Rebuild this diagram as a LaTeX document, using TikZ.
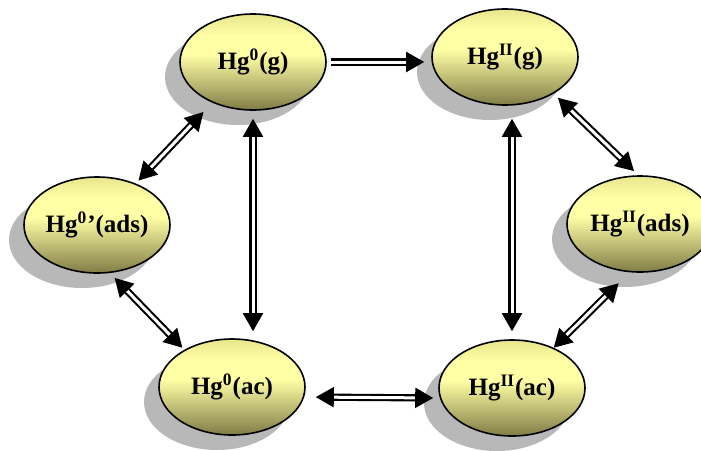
\documentclass[tikz,border=0pt]{standalone}
\usepackage{fontspec}
\setmainfont{Liberation Serif}
\usepackage{tikz}
\usetikzlibrary{arrows.meta,shapes.geometric,shadows}
\definecolor{spctop}{RGB}{232,230,140}
\definecolor{spcmid}{RGB}{255,255,165}
\definecolor{spcbot}{RGB}{128,124,70}
\pgfdeclareverticalshading{spcshade}{100bp}{color(0bp)=(spcbot);
  color(25bp)=(spcbot); color(54bp)=(spcmid); color(64bp)=(spcmid);
  color(75bp)=(spctop); color(100bp)=(spctop)}
\tikzset{
  spc/.style={ellipse, draw, thick, minimum width=73pt, minimum height=48pt,
              inner sep=0pt, shading=spcshade,
              font=\fontsize{12.5}{14}\selectfont\bfseries,
              drop shadow={shadow xshift=-7.5pt, shadow yshift=-7.5pt,
                           fill=black!28, opacity=1}},
  dbl/.style={line width=1.05pt, double=white, double distance=1.5pt,
              {Triangle[length=9pt,width=10pt]}-{Triangle[length=9pt,width=10pt]}},
  one/.style={line width=1.05pt, double=white, double distance=1.5pt,
              -{Triangle[length=9pt,width=10pt]}},
}
\begin{document}
\begin{tikzpicture}[x=0.5pt, y=-0.5pt]
  \useasboundingbox (0,0) rectangle (701,450);
  % species
  \node[spc] (g0)    at (253,62)  {Hg\textsuperscript{0}(g)};
  \node[spc] (gII)   at (505,57)  {Hg\textsuperscript{II}(g)};
  \node[spc] (ads0)  at (97,225)  {Hg\textsuperscript{0}’(ads)};
  \node[spc] (adsII) at (640,224) {Hg\textsuperscript{II}(ads)};
  \node[spc] (ac0)   at (232,387) {Hg\textsuperscript{0}(ac)};
  \node[spc] (acII)  at (512,388) {Hg\textsuperscript{II}(ac)};
  % transfers
  \draw[one, shorten <=2pt, shorten >=3.5pt] (g0.east) -- (g0.east -| gII.west);
  \draw[dbl, shorten <=4pt, shorten >=3.5pt] (g0.south) -- (g0.south |- ac0.north);
  \draw[dbl, shorten <=6.5pt, shorten >=4pt] (acII.north |- gII.south) -- (acII.north);
  \draw[dbl, shorten <=6.4pt, shorten >=2pt] (g0.225) -- (ads0.47);
  \draw[dbl, shorten <=3.4pt, shorten >=1.4pt] (ads0.285) -- (ac0.142);
  \draw[dbl, shorten <=5pt, shorten >=2.5pt] ([yshift=-5pt]ac0.east) -- ([yshift=-5pt]acII.west);
  \draw[dbl, shorten <=3pt, shorten >=3pt] (gII.323) -- (adsII.92);
  \draw[dbl, shorten <=7.8pt] (adsII.258) -- (acII.44);
\end{tikzpicture}
\end{document}
